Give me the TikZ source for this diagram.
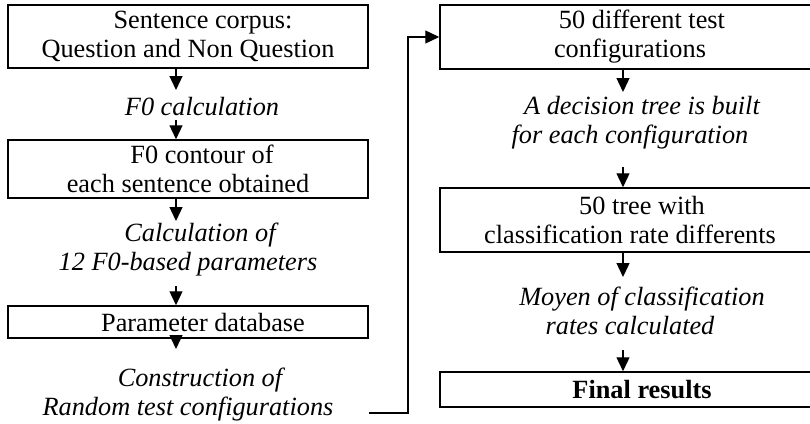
\documentclass[tikz,border=0pt]{standalone}
\usepackage{fontspec}
\setmainfont{Liberation Serif}
\usetikzlibrary{arrows.meta}
\begin{document}
\begin{tikzpicture}[x=1pt,y=-1pt,
  stepbox/.style={draw, line width=1.5pt, inner sep=0pt, align=center,
    font=\fontsize{26.3}{29}\selectfont},
  lbox/.style={stepbox, minimum width=360pt},
  rbox/.style={stepbox, minimum width=380pt},
  note/.style={inner sep=0pt, align=center,
    font=\fontsize{26.3}{29}\selectfont\itshape},
  flow/.style={line width=1.3pt, -{Triangle[width=13pt,length=14pt]}}]
\useasboundingbox (0,0) rectangle (810,423);

% left column
\node[lbox, minimum height=63pt] (corpus) at (188,36.5)
  {\hspace*{30pt}Sentence corpus:\\Question and Non Question};
\node[note] (f0calc) at (188,107) {\hspace*{28pt}F0 calculation};
\node[lbox, minimum height=58pt] (contour) at (188,169)
  {\hspace*{28pt}F0 contour of\\each sentence obtained};
\node[note] (params) at (188,250)
  {\hspace*{24pt}Calculation of\\12 F0-based parameters};
\node[lbox, minimum height=32pt] (db) at (188,322)
  {\hspace*{30pt}Parameter database};
\node[note] (construct) at (188,395)
  {\hspace*{24pt}Construction of\\Random test configurations};

% right column
\node[rbox, minimum height=64pt] (configs) at (630,37)
  {\hspace*{24pt}50 different test\\configurations};
\node[note] (tree) at (630,122.5)
  {\hspace*{24pt}A decision tree is built\\for each configuration};
\node[rbox, minimum height=64pt] (rates) at (630,220)
  {\hspace*{24pt}50 tree with\\classification rate differents};
\node[note] (moyen) at (630,311)
  {\hspace*{24pt}Moyen of classification\\rates calculated};
\node[rbox, minimum height=35pt] (final) at (630,389.5)
  {\hspace*{24pt}\bfseries Final results};

% arrow columns
\coordinate (lx) at (176,0);
\coordinate (rx) at (623,0);
\coordinate (a1) at (176,90);
\coordinate (a2s) at (176,120);
\coordinate (a3) at (176,221);
\coordinate (a4s) at (176,286);
\coordinate (a5) at (176,349);
\coordinate (b1) at (623,92);
\coordinate (b2s) at (623,167);
\coordinate (b3) at (623,277);
\coordinate (b4s) at (623,350);

\draw[flow] (corpus.south -| lx) -- (a1);
\draw[flow] (a2s) -- (contour.north -| lx);
\draw[flow] (contour.south -| lx) -- (a3);
\draw[flow] (a4s) -- (db.north -| lx);
\draw[flow] ([yshift=-2pt]db.south -| lx) -- (a5);

\draw[flow] (configs.south -| rx) -- (b1);
\draw[flow] (b2s) -- (rates.north -| rx);
\draw[flow] (rates.south -| rx) -- (b3);
\draw[flow] (b4s) -- (final.north -| rx);

% link from the left column to the right column
\coordinate (linkstart) at (369,413);
\coordinate (linkx) at (408,0);
\draw[flow] (linkstart) -| (linkx |- configs.west) -- (configs.west);
\end{tikzpicture}
\end{document}
